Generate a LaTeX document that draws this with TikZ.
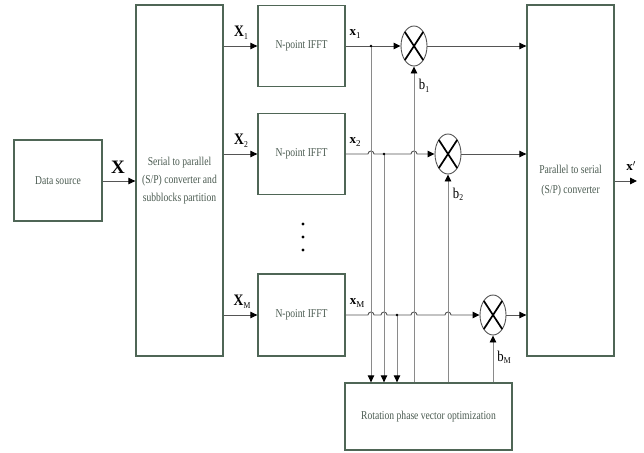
\documentclass[tikz,border=0pt]{standalone}
\usepackage{fontspec}
\setmainfont{Liberation Serif}
\usetikzlibrary{arrows.meta,shapes.geometric}
\definecolor{boxc}{HTML}{4F6656}
\definecolor{txtc}{HTML}{4A5A50}
\definecolor{linec}{HTML}{555555}
\definecolor{vlinec}{HTML}{8A8A8A}
\newcommand{\lbl}[2]{\textbf{#1}\raisebox{-0.35ex}{\fontsize{9}{9}\selectfont #2}}
\begin{document}
\begin{tikzpicture}[x=1pt,y=-1pt,
  blk/.style={draw=boxc,line width=1.3pt,rectangle,inner sep=0pt,text=txtc,align=center,
     font=\addfontfeature{FakeStretch=0.8}\fontsize{12}{18}\selectfont},
  mult/.style={draw=linec,line width=0.9pt,ellipse,minimum width=26pt,minimum height=40pt,inner sep=0pt},
  hl/.style={draw=linec,line width=0.9pt},
  vl/.style={draw=vlinec,line width=0.9pt},
  tip/.style={-{Triangle[length=7pt,width=6.5pt,color=black,fill=black]}},
  big/.style={font=\fontsize{19}{19}\selectfont},
  mid/.style={font=\addfontfeature{FakeStretch=0.85}\fontsize{16}{16}\selectfont},
  sml/.style={font=\fontsize{13}{13}\selectfont},
  bl/.style={font=\addfontfeature{FakeStretch=0.85}\fontsize{15}{15}\selectfont}
]
\useasboundingbox (0,0) rectangle (644,452);
% blocks
\node[blk,minimum width=88pt,minimum height=81pt] (ds) at (58,180.5) {Data source};
\node[blk,minimum width=87pt,minimum height=351pt] (sp) at (179.5,180.5) {Serial to parallel\\(S/P) converter and\\subblocks partition};
\node[blk,minimum width=87pt,minimum height=81pt] (f1) at (301.5,46) {N-point IFFT};
\node[blk,minimum width=87pt,minimum height=81pt] (f2) at (301.5,154) {N-point IFFT};
\node[blk,minimum width=87pt,minimum height=82pt] (fM) at (301.5,315) {N-point IFFT};
\node[blk,minimum width=87pt,minimum height=351pt,font=\addfontfeature{FakeStretch=0.8}\fontsize{12}{20}\selectfont] (ps) at (570.5,180.5) {Parallel to serial\\(S/P) converter};
\node[blk,minimum width=167pt,minimum height=67pt] (rot) at (428.5,416.5) {Rotation phase vector optimization};
% multipliers
\node[mult] (m1) at (414,46) {};
\node[mult] (m2) at (448,154) {};
\node[mult] (mM) at (493,315) {};
\foreach \m in {m1,m2,mM}{
  \draw[line width=1.7pt] ([shift={(-9.2pt,14.1pt)}]\m.center) -- ([shift={(9.2pt,-14.1pt)}]\m.center);
  \draw[line width=1.7pt] ([shift={(-9.2pt,-14.1pt)}]\m.center) -- ([shift={(9.2pt,14.1pt)}]\m.center);
}
% dots
\foreach \yy in {224,237,250} \fill (303,\yy) circle (1.6pt);
% coordinates for taps
\coordinate (t1) at (371,46);
\coordinate (t2) at (384,154);
\coordinate (tM) at (397,315);
% input side
\draw[hl,tip] (ds.east |- 0,181) -- (sp.west |- 0,181);
\draw[hl,tip] (sp.east |- f1.west) -- (f1.west);
\draw[hl,tip] (sp.east |- f2.west) -- (f2.west);
\draw[hl,tip] (sp.east |- fM.west) -- (fM.west);
% x1 line
\draw[hl,tip] (f1.east) -- (m1.west);
% x2 line with hops
\draw[hl,tip] (f2.east) -- (368,154) arc[start angle=180,end angle=0,radius=3pt] -- (411,154) arc[start angle=180,end angle=0,radius=3pt] -- (m2.west);
% xM line with hops
\draw[hl,tip] (fM.east) -- (368,315) arc[start angle=180,end angle=0,radius=3pt] -- (381,315) arc[start angle=180,end angle=0,radius=3pt]
   -- (411,315) arc[start angle=180,end angle=0,radius=3pt] -- (445,315) arc[start angle=180,end angle=0,radius=3pt] -- (mM.west);
% outputs of multipliers
\draw[hl,tip] (m1.east) -- (ps.west |- m1.east);
\draw[hl,tip] (m2.east) -- (ps.west |- m2.east);
\draw[hl,tip] (mM.east) -- (ps.west |- mM.east);
\draw[hl,tip] (ps.east |- 0,181) -- (637,181);
% taps down to rotation block
\draw[vl,tip] (t1) -- (t1 |- rot.north);
\draw[vl,tip] (t2) -- (t2 |- rot.north);
\draw[vl,tip] (tM) -- (tM |- rot.north);
\fill (t1) circle (1.3pt);
\fill (t2) circle (1.3pt);
\fill (tM) circle (1.3pt);
% phase factors up to multipliers
\draw[vl,tip] (m1.south |- rot.north) -- (m1.south);
\draw[vl,tip] (m2.south |- rot.north) -- (m2.south);
\draw[vl,tip] (mM.south |- rot.north) -- (mM.south);
% labels
\node[big] (lX) at (118,167) {\textbf{X}};
\node[mid] (lX1) at (241,33) {\lbl{X}{1}};
\node[mid] (lX2) at (241,141) {\lbl{X}{2}};
\node[mid] (lXM) at (242,302) {\lbl{X}{M}};
\node[sml] (lx1) at (355,34) {\lbl{x}{1}};
\node[sml] (lx2) at (355,142) {\lbl{x}{2}};
\node[sml] (lxM) at (357,303) {\lbl{x}{M}};
\node[bl] (lb1) at (424,86) {b\raisebox{-0.35ex}{\fontsize{9}{9}\selectfont 1}};
\node[bl] (lb2) at (458,194) {b\raisebox{-0.35ex}{\fontsize{9}{9}\selectfont 2}};
\node[bl] (lbM) at (504,357) {b\raisebox{-0.35ex}{\fontsize{9}{9}\selectfont M}};
\node[sml] (lxp) at (631,166) {\textbf{x}$'$};
\end{tikzpicture}
\end{document}
